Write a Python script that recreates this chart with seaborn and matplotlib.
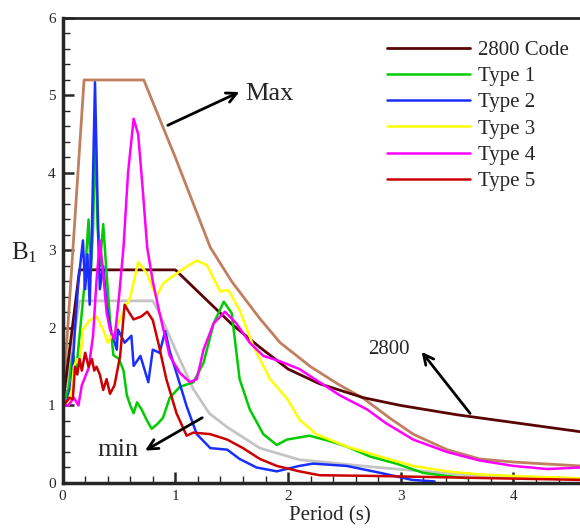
import numpy as np
import pandas as pd
import matplotlib
matplotlib.use("Agg")
import matplotlib.pyplot as plt
from matplotlib.ticker import AutoMinorLocator
import seaborn as sns

# Periods (s) and B1 values
code_T = [0, 0.15, 1.0, 1.25, 1.5, 1.75, 2.0, 2.28, 2.67, 3.0, 3.5, 4.0, 4.6]
code_B = [1.0, 2.75, 2.75, 2.4, 2.05, 1.75, 1.47, 1.28, 1.1, 1.0, 0.88, 0.78, 0.66]

max_T = [0, 0.19, 0.72, 1.0, 1.31, 1.5, 1.75, 1.93, 2.2, 2.45, 2.67, 2.9, 3.11, 3.41, 3.7, 4.0, 4.59]
max_B = [1.0, 5.2, 5.2, 4.2, 3.04, 2.6, 2.12, 1.81, 1.5, 1.27, 1.09, 0.84, 0.63, 0.43, 0.31, 0.27, 0.22]

min_T = [0, 0.15, 0.8, 0.86, 1.0, 1.16, 1.3, 1.46, 1.75, 2.1, 2.8, 3.7, 4.59]
min_B = [1.0, 2.35, 2.35, 2.19, 1.72, 1.21, 0.9, 0.72, 0.45, 0.3, 0.2, 0.09, 0.05]

t1_T = [0.0, 0.05, 0.09, 0.12, 0.15, 0.19, 0.23, 0.25, 0.27, 0.29, 0.31, 0.33, 0.36, 0.39,
        0.42, 0.45, 0.5, 0.54, 0.57, 0.6, 0.63, 0.66, 0.7, 0.75, 0.79, 0.84, 0.89, 0.95,
        1.04, 1.16, 1.25, 1.34, 1.43, 1.5, 1.57, 1.66, 1.78, 1.9, 1.99, 2.19, 2.37, 2.52,
        2.73, 2.96, 3.2, 3.41, 3.6]
t1_B = [1.0, 1.2, 1.68, 1.45, 1.9, 2.5, 3.4, 2.7, 3.3, 4.55, 3.3, 2.8, 3.34, 2.7,
        2.1, 1.65, 1.6, 1.45, 1.13, 1.0, 0.9, 1.04, 0.95, 0.8, 0.7, 0.76, 0.84, 1.1,
        1.24, 1.3, 1.55, 2.06, 2.34, 2.19, 1.34, 0.95, 0.63, 0.49, 0.56, 0.61, 0.54, 0.47,
        0.34, 0.25, 0.13, 0.09, 0.06]

t2_T = [0, 0.04, 0.08, 0.11, 0.14, 0.18, 0.2, 0.22, 0.24, 0.26, 0.287, 0.31, 0.33, 0.36,
        0.39, 0.42, 0.48, 0.49, 0.55, 0.61, 0.63, 0.69, 0.76, 0.8, 0.86, 0.91, 0.95, 1.01,
        1.1, 1.19, 1.31, 1.46, 1.57, 1.72, 1.9, 2.1, 2.22, 2.52, 2.82, 3.1, 3.3]
t2_B = [1.0, 1.05, 1.3, 2.0, 2.6, 3.13, 2.5, 2.95, 2.3, 3.3, 5.17, 3.6, 2.5, 2.8,
        2.3, 2.02, 1.72, 1.98, 1.81, 1.9, 1.51, 1.64, 1.3, 1.72, 1.68, 1.96, 1.7, 1.42,
        0.99, 0.63, 0.45, 0.43, 0.31, 0.2, 0.15, 0.22, 0.25, 0.22, 0.13, 0.04, 0.02]

t3_T = [0, 0.05, 0.08, 0.1, 0.13, 0.15, 0.18, 0.24, 0.3, 0.36, 0.4, 0.48, 0.6, 0.67, 0.75,
        0.83, 0.89, 0.95, 1.01, 1.1, 1.19, 1.28, 1.4, 1.47, 1.57, 1.69, 1.84, 1.99, 2.1,
        2.25, 2.52, 2.82, 3.11, 3.41, 3.7, 4.0, 4.6]
t3_B = [1.0, 1.05, 1.2, 1.5, 1.6, 1.5, 1.98, 2.1, 2.15, 1.98, 1.81, 2.02, 2.4, 2.85, 2.7,
        2.4, 2.57, 2.64, 2.7, 2.79, 2.87, 2.81, 2.47, 2.49, 2.23, 1.77, 1.34, 1.09, 0.82,
        0.63, 0.47, 0.34, 0.22, 0.15, 0.11, 0.09, 0.06]

t4_T = [0, 0.05, 0.1, 0.14, 0.17, 0.23, 0.27, 0.3, 0.33, 0.36, 0.39, 0.42, 0.46, 0.5, 0.54,
        0.58, 0.63, 0.67, 0.71, 0.75, 0.8, 0.86, 0.95, 1.04, 1.13, 1.19, 1.25, 1.34, 1.44,
        1.54, 1.66, 1.78, 1.93, 2.1, 2.28, 2.46, 2.7, 2.87, 3.11, 3.41, 3.7, 4.0, 4.3, 4.6]
t4_B = [1.0, 1.0, 1.1, 1.0, 1.26, 1.48, 1.9, 2.6, 3.13, 2.7, 2.2, 1.98, 1.85, 2.4, 3.04,
        4.0, 4.7, 4.5, 3.8, 3.04, 2.6, 2.19, 1.64, 1.42, 1.3, 1.34, 1.72, 2.06, 2.21,
        2.06, 1.81, 1.64, 1.57, 1.47, 1.3, 1.13, 0.95, 0.77, 0.56, 0.4, 0.29, 0.22, 0.18, 0.2]

t5_T = [0, 0.03, 0.06, 0.09, 0.11, 0.13, 0.15, 0.17, 0.2, 0.23, 0.26, 0.28, 0.3, 0.33, 0.36,
        0.39, 0.42, 0.46, 0.51, 0.55, 0.59, 0.63, 0.7, 0.75, 0.8, 0.85, 0.92, 1.01, 1.1,
        1.16, 1.31, 1.46, 1.6, 1.75, 1.9, 2.1, 2.28, 2.8, 3.5, 4.6]
t5_B = [1.0, 1.04, 1.1, 1.08, 1.5, 1.4, 1.6, 1.45, 1.68, 1.5, 1.6, 1.45, 1.5, 1.4, 1.2,
        1.34, 1.15, 1.26, 1.64, 2.3, 2.2, 2.11, 2.15, 2.21, 2.1, 1.8, 1.34, 0.9, 0.61,
        0.65, 0.63, 0.56, 0.45, 0.31, 0.22, 0.15, 0.1, 0.09, 0.07, 0.04]

series = [
    ("Type 1", t1_T, t1_B, "#00cc00"),
    ("Type 2", t2_T, t2_B, "#1a2fff"),
    ("Type 3", t3_T, t3_B, "#ffff00"),
    ("Type 4", t4_T, t4_B, "#ff00ff"),
    ("Type 5", t5_T, t5_B, "#cc0000"),
]

sns.set_style("ticks")
plt.rcParams["font.family"] = ["Liberation Serif", "DejaVu Serif"]
plt.rcParams["mathtext.fontset"] = "custom"
plt.rcParams["mathtext.rm"] = "Liberation Serif"
plt.rcParams["mathtext.it"] = "Liberation Serif"
plt.rcParams["lines.solid_joinstyle"] = "round"

fig = plt.figure(figsize=(5.8, 5.29), dpi=100)
ax = fig.add_axes([0.108, 0.087, 0.892, 0.879])

# envelopes (not in legend)
sns.lineplot(x=max_T, y=max_B, color="#c08060", lw=2, ax=ax, sort=False, estimator=None)
sns.lineplot(x=min_T, y=min_B, color="#c4c4c4", lw=2, ax=ax, sort=False, estimator=None)

sns.lineplot(x=code_T, y=code_B, color="#5a0505", lw=2, ax=ax, sort=False,
             estimator=None, label="2800 Code")
for name, T, B, c in series:
    sns.lineplot(x=T, y=B, color=c, lw=1.8, ax=ax, sort=False, estimator=None, label=name)

ax.set_xlim(0, 4.59)
ax.set_ylim(0, 6)
ax.set_xticks([0, 1, 2, 3, 4])
ax.set_yticks([0, 1, 2, 3, 4, 5, 6])
ax.xaxis.set_minor_locator(AutoMinorLocator(5))
ax.yaxis.set_minor_locator(AutoMinorLocator(5))
ax.tick_params(which="major", direction="in", length=8, width=1.8, labelsize=11, pad=5)
ax.tick_params(which="minor", direction="in", length=5, width=1)
for s in ["left", "bottom"]:
    ax.spines[s].set_linewidth(2.5)
ax.spines["top"].set_linewidth(2)
ax.spines["right"].set_visible(False)

ax.set_xlabel("Period (s)", fontsize=15)
ax.xaxis.set_label_coords(0.517, -0.05)
ax.set_ylabel(r"B$_{1}$", fontsize=18, rotation=0, va="center")
ax.yaxis.set_label_coords(-0.075, 0.495)

ax.legend(loc="upper left", bbox_to_anchor=(0.627, 0.952), frameon=False, fontsize=15,
          handlelength=4.0, handletextpad=0.35, labelspacing=0.32, borderpad=0,
          borderaxespad=0)

arrow = dict(arrowstyle="->", color="black", lw=2, mutation_scale=18)
ax.annotate("", xy=(1.59, 5.06), xytext=(0.91, 4.6), arrowprops=arrow)
ax.text(1.62, 5.02, "Max", fontsize=19, ha="left", va="center")
ax.annotate("", xy=(0.71, 0.4), xytext=(1.26, 0.86), arrowprops=arrow)
ax.text(0.31, 0.42, "min", fontsize=19, ha="left", va="center")
ax.annotate("", xy=(3.17, 1.72), xytext=(3.63, 0.87), arrowprops=arrow)
ax.text(2.71, 1.72, "2800", fontsize=15, ha="left", va="center")

fig.savefig("out.png", dpi=100)
